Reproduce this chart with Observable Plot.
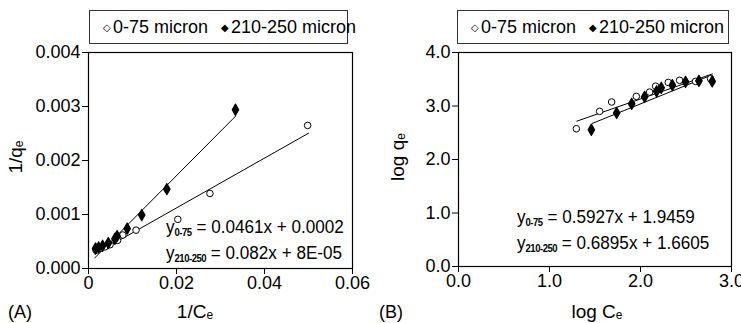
<!DOCTYPE html>
<html><head><meta charset="utf-8">
<script src="https://cdn.jsdelivr.net/npm/d3@7"></script>
<script src="https://cdn.jsdelivr.net/npm/@observablehq/plot@0.6"></script>
<style>
body{margin:0;background:#fff;font-family:"Liberation Sans",Arial,sans-serif;color:#000;}
#wrap{position:relative;width:741px;height:323px;overflow:hidden;background:#fff;}
.panel{position:absolute;top:0;}
.panel svg{overflow:visible;}
.legend{position:absolute;top:10px;height:34px;border:1px solid #333;box-sizing:border-box;font-size:18px;line-height:32px;white-space:nowrap;background:#fff;}
.legend span.sym{font-size:10px;display:inline-block;margin-right:2px;vertical-align:2px;}
.t{position:absolute;white-space:nowrap;}
.eq{font-size:18px;transform-origin:0 50%;transform:scaleX(0.95);}
.eq sub{font-size:10px;font-weight:bold;vertical-align:-3px;letter-spacing:-0.5px;}
.lab{font-size:19px;transform:translate(-50%,-50%);}
.lab sub{font-size:12px;vertical-align:-1px;}
.rot{font-size:19px;transform:translate(-50%,-50%) rotate(-90deg);}
.rot sub{font-size:12px;vertical-align:-1px;}
</style></head><body>
<div id="wrap">
  <div class="panel" id="pa" style="left:0"></div>
  <div class="panel" id="pb" style="left:370px"></div>
</div>
<script>
// Panel A: Langmuir linearisation 1/qe vs 1/Ce
const seriesNames = ["0-75 micron", "210-250 micron"];
const openA_x = [0.0498, 0.0276, 0.0203, 0.0108, 0.0078, 0.0066, 0.0049, 0.0037, 0.0025, 0.0017];
const openA_y = [0.00265, 0.00139, 0.00091, 0.00071, 0.00062, 0.00052, 0.00044, 0.00040, 0.00037, 0.00034];
const fillA_x = [0.0334, 0.0178, 0.0121, 0.0088, 0.0065, 0.0060, 0.0045, 0.0032, 0.0023, 0.0016];
const fillA_y = [0.00294, 0.00147, 0.00099, 0.00074, 0.00060, 0.00055, 0.00047, 0.00042, 0.00039, 0.00037];
// Panel B: Freundlich linearisation log qe vs log Ce
const openB_x = [1.295, 1.551, 1.683, 1.954, 2.10, 2.166, 2.305, 2.43, 2.605, 2.77];
const openB_y = [2.575, 2.90, 3.075, 3.18, 3.26, 3.37, 3.44, 3.48, 3.46, 3.51];
const fillB_x = [1.46, 1.738, 1.903, 2.045, 2.177, 2.228, 2.35, 2.495, 2.642, 2.788];
const fillB_y = [2.556, 2.87, 3.04, 3.17, 3.275, 3.34, 3.39, 3.45, 3.47, 3.46];
// Trend line equations (slope, intercept) and x extents
const fitA_open = {m: 0.0461, b: 0.0002, x0: 0.0015, x1: 0.0500};
const fitA_fill = {m: 0.082, b: 0.00008, x0: 0.0014, x1: 0.0334};
const fitB_open = {m: 0.5927, b: 1.9459, x0: 1.30, x1: 2.79};
const fitB_fill = {m: 0.6895, b: 1.6605, x0: 1.47, x1: 2.77};
// Ticks
const xTicksA = [0, 0.02, 0.04, 0.06];
const yTicksA = [0, 0.001, 0.002, 0.003, 0.004];
const xTicksB = [0, 1, 2, 3];
const yTicksB = [0, 1, 2, 3, 4];

const pts = (xs, ys) => xs.map((x, i) => ({x, y: ys[i]}));
const fitLine = f => [{x: f.x0, y: f.m * f.x0 + f.b}, {x: f.x1, y: f.m * f.x1 + f.b}];

function panel(opts) {
  return Plot.plot({
    width: opts.width, height: 323,
    marginLeft: 88, marginRight: opts.mr, marginTop: 52, marginBottom: opts.mb,
    style: {fontFamily: "'Liberation Sans', Arial, sans-serif", fontSize: "18px", color: "#000", background: "transparent", overflow: "visible"},
    x: {domain: opts.xd}, y: {domain: opts.yd},
    marks: [
      Plot.axisX({ticks: opts.xt, tickFormat: opts.xf, tickSize: 6, tickPadding: 2, label: null, fontSize: 18}),
      Plot.axisY({ticks: opts.yt, tickFormat: opts.yf, tickSize: 6, tickPadding: 2, label: null, fontSize: 18}),
      Plot.frame({stroke: "#000", strokeWidth: 1.2}),
      Plot.line(fitLine(opts.f1), {x: "x", y: "y", stroke: "#000", strokeWidth: 1}),
      Plot.line(fitLine(opts.f2), {x: "x", y: "y", stroke: "#000", strokeWidth: 1}),
      Plot.dot(opts.open, {x: "x", y: "y", r: 3.3, stroke: "#000", fill: "#fff", strokeWidth: 1}),
      Plot.dot(opts.fill, {x: "x", y: "y", r: 3.4, symbol: "diamond", fill: "#000", stroke: "#000", strokeWidth: 1.2, strokeLinejoin: "round"})
    ]
  });
}

document.getElementById("pa").append(panel({
  width: 370, mr: 18, mb: 55, xd: [0, 0.06], yd: [0, 0.004],
  xt: xTicksA, yt: yTicksA,
  xf: d => d === 0 ? "0" : d3.format(".2f")(d), yf: d3.format(".3f"),
  f1: fitA_open, f2: fitA_fill,
  open: pts(openA_x, openA_y), fill: pts(fillA_x, fillA_y)
}));
document.getElementById("pb").append(panel({
  width: 371, mr: 10, mb: 57, xd: [0, 3], yd: [0, 4],
  xt: xTicksB, yt: yTicksB,
  xf: d3.format(".1f"), yf: d3.format(".1f"),
  f1: fitB_open, f2: fitB_fill,
  open: pts(openB_x, openB_y), fill: pts(fillB_x, fillB_y)
}));

const wrap = document.getElementById("wrap");
function add(html, cls, style) {
  const d = document.createElement("div");
  d.className = cls; d.style.cssText = style; d.innerHTML = html;
  wrap.append(d);
}
function legend(left, width) {
  add(`<span style="margin-left:13px"><span class="sym">&#9671;</span>${seriesNames[0]}</span><span style="margin-left:13px"><span class="sym">&#9670;</span>${seriesNames[1]}</span>`,
      "legend", `left:${left}px;width:${width}px;`);
}
legend(89, 259);
legend(457, 272);

// Equations
add("y<sub>0-75</sub> = 0.0461x + 0.0002", "t eq", "left:166px;top:217px;");
add("y<sub>210-250</sub> = 0.082x + 8E-05", "t eq", "left:166px;top:243px;");
add("y<sub>0-75</sub> = 0.5927x + 1.9459", "t eq", "left:517px;top:207px;");
add("y<sub>210-250</sub> = 0.6895x + 1.6605", "t eq", "left:517px;top:233px;");

// Axis labels and panel letters
add("1/C<sub>e</sub>", "t lab", "left:195px;top:312px;");
add("1/q<sub>e</sub>", "t rot", "left:16px;top:157px;");
add("log C<sub>e</sub>", "t lab", "left:597px;top:312px;");
add("log q<sub>e</sub>", "t rot", "left:398px;top:157px;");
add("(A)", "t", "left:8px;top:302px;font-size:18px;");
add("(B)", "t", "left:379px;top:302px;font-size:18px;");
</script>
</body></html>
